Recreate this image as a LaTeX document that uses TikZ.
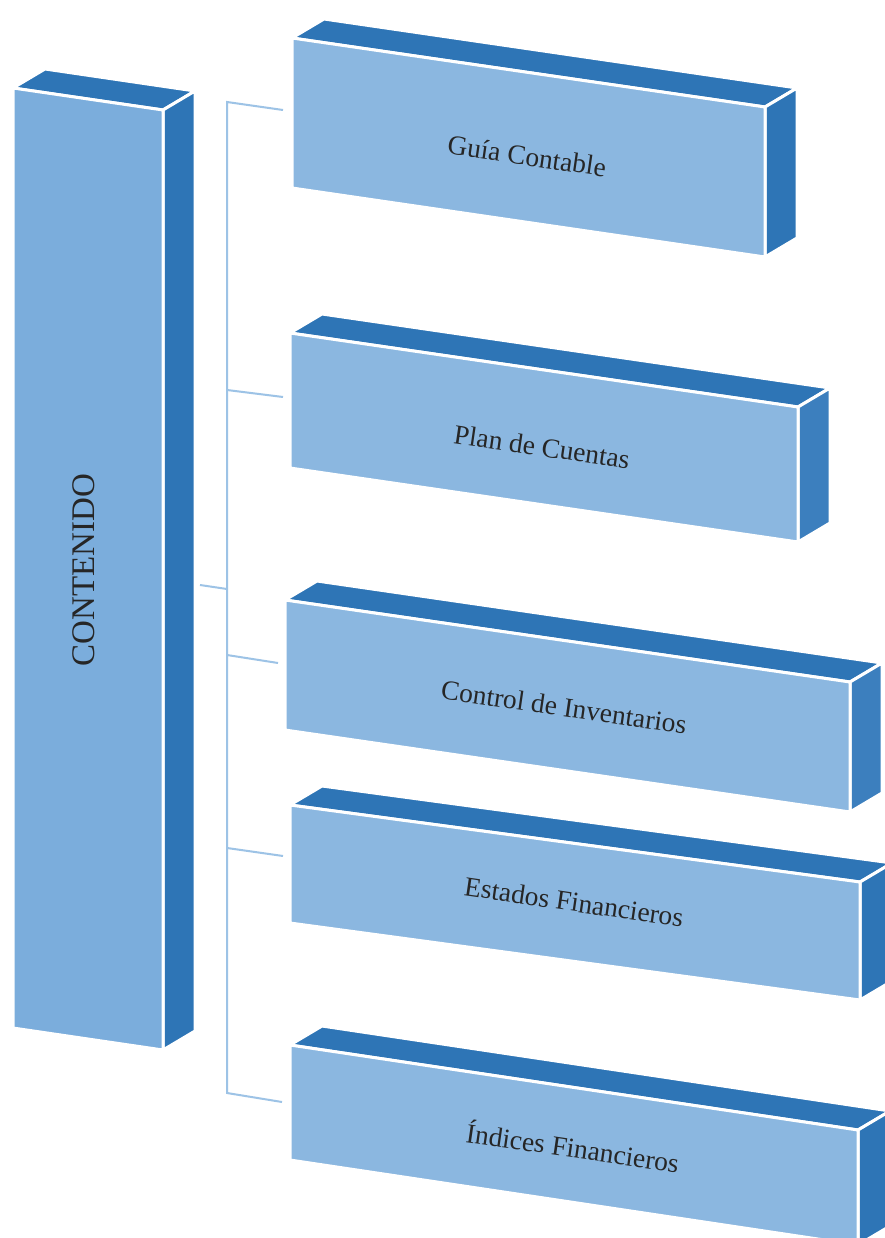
\documentclass[tikz,border=0pt]{standalone}
\usepackage{fontspec}
\setmainfont{Liberation Serif}
\definecolor{azulclaro}{RGB}{139,183,224}
\definecolor{azulizq}{RGB}{123,173,220}
\definecolor{azuloscuro}{RGB}{46,117,182}
\definecolor{azullado}{RGB}{60,127,190}
\definecolor{azullinea}{RGB}{157,195,230}
\usetikzlibrary{calc}

% caja en perspectiva: esquina sup. izq., esquina sup. der., alto, frente, lateral
\newcommand{\caja}[5]{%
  \coordinate (tl) at (#1); \coordinate (tr) at (#2);
  \coordinate (bl) at ($(tl)+(0,#3)$); \coordinate (br) at ($(tr)+(0,#3)$);
  \filldraw[cara, fill=azuloscuro] (tl) -- ($(tl)+(32,-19)$) -- ($(tr)+(32,-19)$) -- (tr) -- cycle;
  \filldraw[cara, fill=#5] (tr) -- ($(tr)+(32,-19)$) -- ($(br)+(32,-19)$) -- (br) -- cycle;
  \filldraw[cara, fill=#4] (tl) -- (tr) -- (br) -- (bl) -- cycle;
}

\begin{document}
\begin{tikzpicture}[x=1pt, y=-1pt,
    cara/.style={draw=white, line width=3pt},
    linea/.style={draw=azullinea, line width=2pt},
    texto/.style={text=black!85, font=\fontsize{27.5}{30}\selectfont, rotate=-8.3, inner sep=0pt}]
  \clip (0,0) rectangle (885,1238);
  \fill[white] (0,0) rectangle (885,1238);

  % conectores
  \coordinate (t1) at (227,102);
  \coordinate (t2) at (227,390);
  \coordinate (t3) at (227,655);
  \coordinate (t4) at (227,848);
  \coordinate (t5) at (227,1093);
  \coordinate (tc) at (227,589);
  \coordinate (e1) at (283,110);
  \coordinate (e2) at (283,397);
  \coordinate (e3) at (278,663);
  \coordinate (e4) at (283,856);
  \coordinate (e5) at (282,1102);
  \coordinate (ec) at (200,585);
  \draw[linea] (e1) -- (t1) -- (t5) -- (e5);
  \draw[linea] (t2) -- (e2);
  \draw[linea] (t3) -- (e3);
  \draw[linea] (t4) -- (e4);
  \draw[linea] (ec) -- (tc);

  % cajas
  \caja{13,88}{163,110}{940}{azulizq}{azuloscuro}
  \caja{292,38}{765,107}{150}{azulclaro}{azuloscuro}
  \caja{290,333}{798,407}{135}{azulclaro}{azullado}
  \caja{285,600}{850,682}{130}{azulclaro}{azullado}
  \caja{290,805}{860,882}{118}{azulclaro}{azuloscuro}
  \caja{290,1045}{858,1130}{115}{azulclaro}{azuloscuro}

  % textos
  \node[texto, rotate=98.3, font=\fontsize{33}{36}\selectfont] (contenido) at (84,570) {CONTENIDO};
  \node[texto] (guia) at (527,156) {Guía Contable};
  \node[texto] (plan) at (542,447) {Plan de Cuentas};
  \node[texto] (control) at (564,707) {Control de Inventarios};
  \node[texto] (estados) at (574,902) {Estados Financieros};
  \node[texto] (indices) at (573,1146) {Índices Financieros};
\end{tikzpicture}
\end{document}
